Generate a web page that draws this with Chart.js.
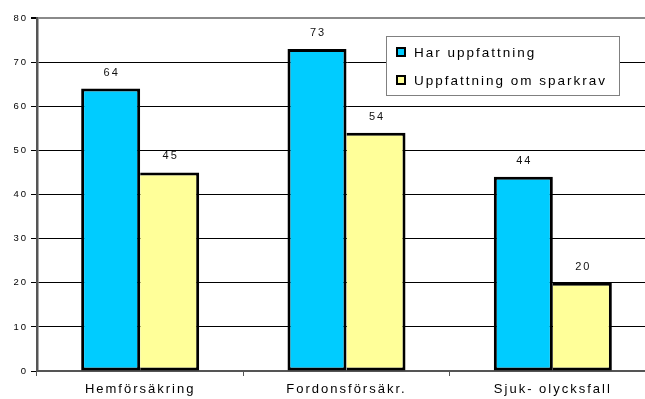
<!DOCTYPE html>
<html>
<head>
<meta charset="utf-8">
<script src="https://cdn.jsdelivr.net/npm/chart.js@4/dist/chart.umd.min.js"></script>
<style>
  html, body { margin: 0; padding: 0; background: #fff; overflow: hidden; }
  canvas { display: block; }
</style>
</head>
<body>
<canvas id="chart" width="660" height="399"></canvas>
<script>
// ===== DATA =====
const categories = ['Hemförsäkring', 'Fordonsförsäkr.', 'Sjuk- olycksfall'];
const harUppfattning = [64, 73, 44];
const uppfattningSparkrav = [45, 54, 20];
const seriesNames = ['Har uppfattning', 'Uppfattning om sparkrav'];
const yTicks = [0, 10, 20, 30, 40, 50, 60, 70, 80];

const FONT = "'Liberation Sans', Arial, sans-serif";
const CYAN = '#00ccff';
const YELLOW = '#ffff99';

// ===== PLUGINS =====
// spaced-out lettering like the old office charts
const spacing = {
  id: 'spacing',
  beforeDraw(chart) { chart.ctx.letterSpacing = '2px'; }
};

// value labels above each bar
const valueLabels = {
  id: 'valueLabels',
  afterDatasetsDraw(chart) {
    const ctx = chart.ctx;
    ctx.save();
    ctx.letterSpacing = '2px';
    ctx.font = '11px ' + FONT;
    ctx.fillStyle = '#111';
    ctx.textAlign = 'center';
    ctx.textBaseline = 'middle';
    chart.data.datasets.forEach((ds, i) => {
      chart.getDatasetMeta(i).data.forEach((bar, j) => {
        ctx.fillText(String(ds.data[j]), bar.x + 1, bar.y - 16);
      });
    });
    ctx.restore();
  }
};

// boxed legend sitting inside the plot
const boxLegend = {
  id: 'boxLegend',
  afterDraw(chart) {
    const ctx = chart.ctx;
    const x = 386, y = 36, w = 233, h = 59;
    ctx.save();
    ctx.fillStyle = '#fff';
    ctx.fillRect(x, y, w, h);
    ctx.strokeStyle = '#808080';
    ctx.lineWidth = 1;
    ctx.strokeRect(x + 0.5, y + 0.5, w, h);
    ctx.letterSpacing = '2px';
    ctx.font = '13.5px ' + FONT;
    ctx.textBaseline = 'middle';
    chart.data.datasets.forEach((ds, i) => {
      const cy = 52 + i * 28;
      ctx.fillStyle = '#000';
      ctx.fillRect(396, cy - 5, 10, 10);
      ctx.fillStyle = ds.backgroundColor;
      ctx.fillRect(398, cy - 3, 6, 6);
      ctx.fillStyle = '#000';
      ctx.fillText(ds.label, 414, cy + 1);
    });
    ctx.restore();
  }
};

// ===== CHART =====
new Chart(document.getElementById('chart'), {
  type: 'bar',
  data: {
    labels: categories,
    datasets: [{
      label: seriesNames[0],
      data: harUppfattning,
      backgroundColor: CYAN,
      borderColor: '#000',
      borderWidth: 3,
      borderSkipped: false,
    }, {
      label: seriesNames[1],
      data: uppfattningSparkrav,
      backgroundColor: YELLOW,
      borderColor: '#000',
      borderWidth: { top: 3, right: 3, bottom: 3, left: 0 },
      borderSkipped: false,
    }]
  },
  options: {
    responsive: false,
    devicePixelRatio: 1,
    animation: false,
    layout: { padding: { top: 18, right: 4, left: 0, bottom: 0 } },
    datasets: { bar: { categoryPercentage: 0.572, barPercentage: 1.0 } },
    plugins: {
      legend: { display: false },
      tooltip: { enabled: false },
    },
    scales: {
      x: {
        afterFit: (s) => { s.height = 28; },
        grid: {
          drawOnChartArea: false,
          drawTicks: true,
          tickLength: 5,
          color: '#555',
          offset: true,
        },
        border: { color: '#555', width: 2 },
        ticks: { font: { family: FONT, size: 13 }, color: '#000', padding: 6 },
      },
      y: {
        min: 0,
        max: 80,
        afterFit: (s) => { s.width = 37; },
        afterBuildTicks: (s) => { s.ticks = yTicks.map(v => ({ value: v })); },
        grid: {
          color: (c) => c.tick && c.tick.value === 80 ? '#8a8a8a' : '#000',
          lineWidth: (c) => c.tick && c.tick.value === 80 ? 2 : 1,
          tickColor: '#000',
          tickLength: 6,
        },
        border: { color: '#555', width: 2.5 },
        ticks: { font: { family: FONT, size: 9.5 }, color: '#000', padding: 3 },
      }
    }
  },
  plugins: [spacing, valueLabels, boxLegend]
});
</script>
</body>
</html>
